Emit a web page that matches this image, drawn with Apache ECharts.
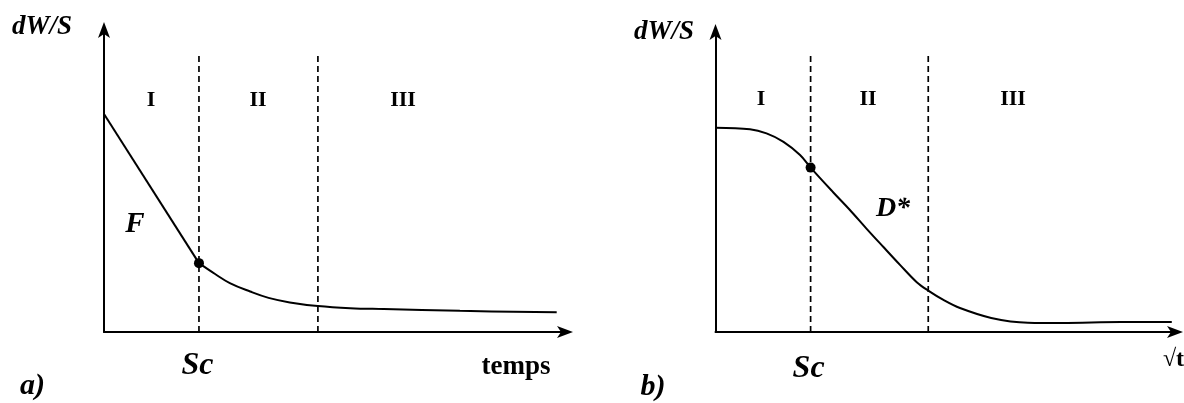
<!DOCTYPE html>
<html><head><meta charset="utf-8">
<script src="https://cdn.jsdelivr.net/npm/echarts@6/dist/echarts.min.js"></script>
<style>html,body{margin:0;padding:0;background:#fff}#c{width:1184px;height:403px}</style>
</head><body><div id="c"></div>
<script>
// Panel a) : dW/S vs temps (arbitrary units 0..100)
const aLinear = [[0, 72.2], [20.6, 22.8]];
const aCurve = [[20.6, 22.8], [24.1, 19.2], [27.3, 16.2], [31.7, 13.4], [35.7, 11.3], [40.3, 9.8], [46.4, 8.6], [53.4, 7.9], [60.7, 7.6], [77.2, 7.0], [98.2, 6.5]];
const aSc = [[20.6, 22.8]];
const aBounds = [20.6, 46.4];
const aBoundTop = 91.7;

// Panel b) : dW/S vs sqrt(t) (arbitrary units 0..100)
const bCurve = [[0, 68.1], [7.5, 67.6], [11.1, 66.2], [14.8, 63.4], [18.4, 59.0], [20.7, 54.8], [25.6, 46.6], [29.3, 40.6], [32.9, 34.4], [36.5, 28.4], [40.2, 22.3], [43.8, 16.6], [46.3, 13.8], [49.6, 10.7], [53.2, 8.0], [60.0, 4.7], [68.0, 3.1], [75.4, 3.0], [88.2, 3.3], [99.3, 3.3]];
const bSc = [[20.7, 54.8]];
const bBounds = [20.7, 46.3];
const bBoundTop = 92.3;

const regionLabels = ['I', 'II', 'III'];

const serif = '"Liberation Serif", "DejaVu Serif", serif';

function axis(grid) {
  return {type: 'value', gridIndex: grid, min: 0, max: 100,
    axisLine: {show: true, onZero: false, symbol: ['none', 'arrow'], symbolSize: [9, 16], symbolOffset: [0, 8], lineStyle: {color: '#000', width: 2}},
    axisTick: {show: false}, axisLabel: {show: false}, splitLine: {show: false}};
}
function boundLines(bounds, top, xi) {
  return bounds.map(b => ({
    type: 'line', xAxisIndex: xi, yAxisIndex: xi, data: [[b, 0], [b, top]],
    symbol: 'none', silent: true, lineStyle: {color: '#000', width: 1.7, type: [6, 4]}
  }));
}
const lineStyle = {color: '#000', width: 2};
function txt(x, y, text, font) {
  return {type: 'text', x, y, style: {text, font: font + ' ' + serif, fill: '#000', align: 'center', verticalAlign: 'middle'}};
}

const option = {
  animation: false,
  backgroundColor: '#fff',
  grid: [
    {left: 104, top: 30, width: 461, height: 302},
    {left: 715.5, top: 32, width: 459.5, height: 300}
  ],
  xAxis: [axis(0), axis(1)],
  yAxis: [axis(0), axis(1)],
  series: [
    {type: 'line', xAxisIndex: 0, yAxisIndex: 0, data: aLinear, symbol: 'none', lineStyle},
    {type: 'line', xAxisIndex: 0, yAxisIndex: 0, data: aCurve, symbol: 'none', smooth: 0.4, lineStyle},
    ...boundLines(aBounds, aBoundTop, 0),
    {type: 'scatter', xAxisIndex: 0, yAxisIndex: 0, data: aSc, symbolSize: 10, itemStyle: {color: '#000', opacity: 1}},
    {type: 'line', xAxisIndex: 1, yAxisIndex: 1, data: bCurve, symbol: 'none', smooth: 0.35, lineStyle},
    ...boundLines(bBounds, bBoundTop, 1),
    {type: 'scatter', xAxisIndex: 1, yAxisIndex: 1, data: bSc, symbolSize: 10, itemStyle: {color: '#000', opacity: 1}}
  ],
  graphic: [
    // panel a
    txt(42, 27.2, 'dW/S', 'italic bold 27px'),
    txt(151, 100.1, regionLabels[0], 'bold 22px'),
    txt(258, 100.1, regionLabels[1], 'bold 22px'),
    txt(403, 100.1, regionLabels[2], 'bold 22px'),
    txt(135, 224.6, 'F', 'italic bold 29px'),
    txt(197.5, 365.7, 'Sc', 'italic bold 32px'),
    txt(516, 367.2, 'temps', 'bold 27px'),
    txt(32.5, 386.3, 'a)', 'italic bold 30px'),
    // panel b
    txt(664, 32.2, 'dW/S', 'italic bold 27px'),
    txt(761, 99.1, regionLabels[0], 'bold 22px'),
    txt(868, 99.1, regionLabels[1], 'bold 22px'),
    txt(1013, 99.1, regionLabels[2], 'bold 22px'),
    txt(893, 208.9, 'D*', 'italic bold 28px'),
    txt(808.6, 368.7, 'Sc', 'italic bold 32px'),
    txt(1173.5, 360, '√t', 'bold 24px'),
    txt(653, 387.3, 'b)', 'italic bold 30px')
  ]
};
const chart = echarts.init(document.getElementById('c'), null, {renderer: 'canvas'});
chart.setOption(option);
</script></body></html>
